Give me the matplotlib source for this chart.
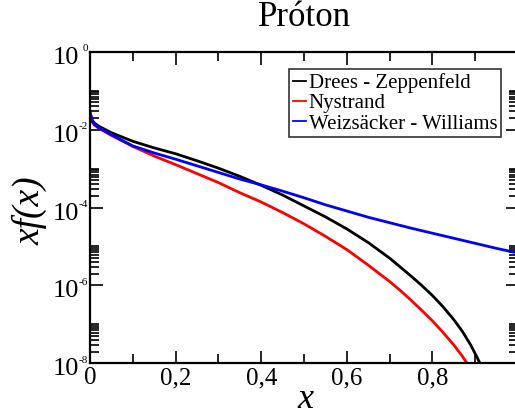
import numpy as np
import matplotlib
matplotlib.use('Agg')
import matplotlib.pyplot as plt
from matplotlib.lines import Line2D
from matplotlib.ticker import FixedLocator, FixedFormatter, NullFormatter

plt.rcParams['font.family'] = 'Liberation Serif'

# x and log10(x f(x))
x_dz = [0.0, 0.005, 0.01, 0.02, 0.05, 0.1, 0.15, 0.2, 0.25, 0.3, 0.35, 0.4, 0.45,
        0.5, 0.55, 0.6, 0.65, 0.7, 0.75, 0.775, 0.8, 0.825, 0.85, 0.87, 0.89, 0.905, 0.918]
lg_dz = [-1.58, -1.75, -1.83, -1.91, -2.08, -2.30, -2.47, -2.62, -2.80, -2.99, -3.20, -3.43, -3.68,
         -3.96, -4.24, -4.55, -4.90, -5.30, -5.76, -6.00, -6.26, -6.55, -6.88, -7.18, -7.54, -7.86, -8.16]

x_ny = [0.0, 0.005, 0.01, 0.02, 0.05, 0.1, 0.15, 0.2, 0.25, 0.3, 0.35, 0.4, 0.45,
        0.5, 0.55, 0.6, 0.65, 0.7, 0.725, 0.75, 0.775, 0.8, 0.825, 0.85, 0.87, 0.888]
lg_ny = [-1.62, -1.80, -1.88, -1.96, -2.15, -2.43, -2.68, -2.90, -3.13, -3.36, -3.62, -3.86, -4.13,
         -4.42, -4.74, -5.08, -5.48, -5.90, -6.13, -6.38, -6.64, -6.91, -7.21, -7.53, -7.82, -8.12]

x_ww = [0.0, 0.005, 0.01, 0.02, 0.05, 0.1, 0.15, 0.2, 0.25, 0.3, 0.35, 0.4, 0.45,
        0.5, 0.55, 0.6, 0.65, 0.7, 0.75, 0.8, 0.85, 0.9, 0.95, 1.0]
lg_ww = [-1.52, -1.78, -1.86, -1.95, -2.13, -2.42, -2.60, -2.76, -2.93, -3.10, -3.27, -3.42, -3.58,
         -3.75, -3.93, -4.09, -4.25, -4.39, -4.53, -4.66, -4.79, -4.92, -5.05, -5.17]

labels = ['Drees - Zeppenfeld', 'Nystrand', 'Weizsäcker - Williams']
colors = ['black', 'red', 'blue']
xtick_labels = ['0', '0,2', '0,4', '0,6', '0,8']
ydec = [-8, -6, -4, -2, 0]

fig = plt.figure(figsize=(5.15, 4.16), dpi=100)
ax = fig.add_axes([90/515, (416-363.3)/416, 428/515, 311.6/416])

for xs, lg, c in zip([x_dz, x_ny, x_ww], [lg_dz, lg_ny, lg_ww], colors):
    ax.plot(xs, 10.0**np.array(lg), color=c, lw=2.0)

ax.set_yscale('log')
ax.set_xlim(0, 1)
ax.set_ylim(1e-8, 1)

# ticks, grace style
ax.xaxis.set_major_locator(FixedLocator([0, 0.2, 0.4, 0.6, 0.8]))
ax.xaxis.set_major_formatter(FixedFormatter(xtick_labels))
ax.xaxis.set_minor_locator(FixedLocator([0.1, 0.3, 0.5, 0.7, 0.9]))
ax.yaxis.set_major_locator(FixedLocator([10.0**d for d in ydec]))
ax.yaxis.set_major_formatter(NullFormatter())
ax.yaxis.set_minor_locator(FixedLocator([k * 10.0**d for d in ydec[:-1] for k in range(2, 11)]))
ax.yaxis.set_minor_formatter(NullFormatter())

ax.tick_params(which='both', direction='in', top=True, right=True, width=1.2, labelsize=18)
ax.tick_params(which='major', length=9)
ax.tick_params(which='minor', length=6.5)
ax.tick_params(axis='x', pad=3)
for s in ax.spines.values():
    s.set_linewidth(1.6)

# y tick labels as 10 with a small superscript
for d in ydec:
    ax.annotate('10', xy=(0, 10.0**d), xycoords=('axes fraction', 'data'),
                xytext=(-11, -6), textcoords='offset pixels', ha='right', va='center',
                fontsize=19)
    ax.annotate('%d' % d, xy=(0, 10.0**d), xycoords=('axes fraction', 'data'),
                xytext=(-2, 3), textcoords='offset pixels', ha='right', va='center',
                fontsize=8)

handles = [Line2D([], [], color=c, lw=1.3) for c in colors]
leg = ax.legend(handles, labels, loc='upper right', bbox_to_anchor=(0.960, 0.944),
                borderaxespad=0, fontsize=15, handlelength=0.62, handletextpad=0.12,
                labelspacing=0.04, borderpad=0.18, fancybox=False, frameon=True)
leg.get_frame().set_edgecolor('black')
leg.get_frame().set_linewidth(1.2)

fig.text(304.5/515, 1-26/416, 'Próton', ha='center', va='baseline', fontsize=25)
fig.text(305/515, 1-408/416, 'x', ha='center', va='baseline', fontsize=26, style='italic')
fig.text(30/515, 1-211/416, 'xf(x)', ha='center', va='center', fontsize=27,
         style='italic', rotation=90)

fig.savefig('out.png', dpi=100)
